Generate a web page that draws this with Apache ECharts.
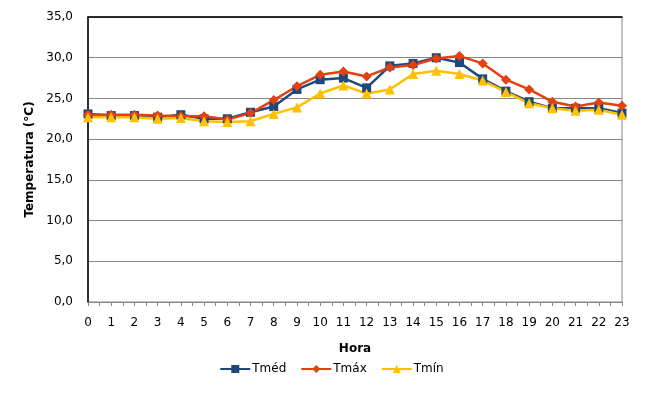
<!DOCTYPE html>
<html lang="pt">
<head>
    <meta charset="utf-8">
    <title>Temperatura por hora</title>
    <script src="https://cdn.jsdelivr.net/npm/echarts@6/dist/echarts.min.js"></script>
    <style>
        html, body { margin: 0; padding: 0; background: #fff; }
    </style>
</head>
<body>
    <div id="main" style="width:663px;height:401px;"></div>
    <script type="text/javascript">
        // dados
        var horas = [0,1,2,3,4,5,6,7,8,9,10,11,12,13,14,15,16,17,18,19,20,21,22,23];
        var tMed = [23.1,22.9,22.9,22.7,23.0,22.5,22.5,23.3,24.0,26.1,27.3,27.5,26.3,29.0,29.3,30.0,29.4,27.4,25.9,24.6,23.8,23.8,23.8,23.2];
        var tMax = [23.0,23.0,23.0,22.9,22.8,22.8,22.4,23.2,24.8,26.5,27.9,28.3,27.7,28.8,29.1,29.9,30.2,29.3,27.3,26.1,24.6,24.0,24.5,24.1];
        var tMin = [22.7,22.7,22.7,22.5,22.6,22.2,22.1,22.2,23.1,23.9,25.6,26.6,25.6,26.1,28.0,28.4,28.0,27.2,25.8,24.4,23.8,23.5,23.6,23.0];

        function pares(v) {
            return horas.map(function (h, i) { return [h, v[i]]; });
        }

        var fonte = 'DejaVu Sans';
        var myChart = echarts.init(document.getElementById('main'));

        var option = {
            animation: false,
            textStyle: { fontFamily: fonte },
            grid: {
                left: 88,
                right: 41,
                top: 17,
                bottom: 99,
                show: true,
                borderColor: '#868686',
                borderWidth: 1
            },
            legend: {
                top: 358,
                left: 'center',
                itemWidth: 30,
                itemHeight: 10,
                itemGap: 14,
                textStyle: { fontFamily: fonte, fontSize: 12, color: '#000', padding: [0, 0, 0, -3] },
                data: ['Tméd', 'Tmáx', 'Tmín']
            },
            xAxis: [{
                type: 'value',
                min: 0,
                max: 23,
                interval: 1,
                name: 'Hora',
                nameLocation: 'middle',
                nameGap: 41,
                nameTextStyle: { fontFamily: fonte, fontSize: 12, fontWeight: 'bold', color: '#000' },
                axisLine: { show: true, lineStyle: { color: '#868686', width: 1 } },
                axisTick: { show: true, length: 4, inside: false, lineStyle: { color: '#868686' } },
                minorTick: { show: true, splitNumber: 2, length: 4, lineStyle: { color: '#868686' } },
                axisLabel: { fontFamily: fonte, fontSize: 12, color: '#000', margin: 15 },
                splitLine: { show: false }
            }, {
                type: 'value',
                position: 'top',
                min: 0,
                max: 23,
                axisLine: { show: true, lineStyle: { color: '#000', width: 1.5 } },
                axisTick: { show: false },
                axisLabel: { show: false },
                splitLine: { show: false }
            }],
            yAxis: {
                type: 'value',
                min: 0,
                max: 35,
                interval: 5,
                name: 'Temperatura (°C)',
                nameLocation: 'middle',
                nameGap: 49,
                nameTextStyle: { fontFamily: fonte, fontSize: 12, fontWeight: 'bold', color: '#000' },
                axisLine: { show: true, lineStyle: { color: '#000', width: 1.5 } },
                axisTick: { show: false },
                axisLabel: {
                    fontFamily: fonte,
                    fontSize: 12,
                    color: '#000',
                    margin: 15,
                    formatter: function (v) { return v.toFixed(1).replace('.', ','); }
                },
                splitLine: { show: true, lineStyle: { color: '#868686', width: 1 } }
            },
            series: [{
                name: 'Tméd',
                type: 'line',
                data: pares(tMed),
                symbol: 'rect',
                symbolSize: 9,
                lineStyle: { color: '#1F497D', width: 2.5 },
                itemStyle: { color: '#1F497D' }
            }, {
                name: 'Tmáx',
                type: 'line',
                data: pares(tMax),
                symbol: 'diamond',
                symbolSize: 10,
                lineStyle: { color: '#E5400F', width: 2.5 },
                itemStyle: { color: '#E5400F' }
            }, {
                name: 'Tmín',
                type: 'line',
                data: pares(tMin),
                symbol: 'triangle',
                symbolSize: 10,
                lineStyle: { color: '#FFC000', width: 2.5 },
                itemStyle: { color: '#FFC000' }
            }]
        };
        myChart.setOption(option);
    </script>
</body>
</html>
